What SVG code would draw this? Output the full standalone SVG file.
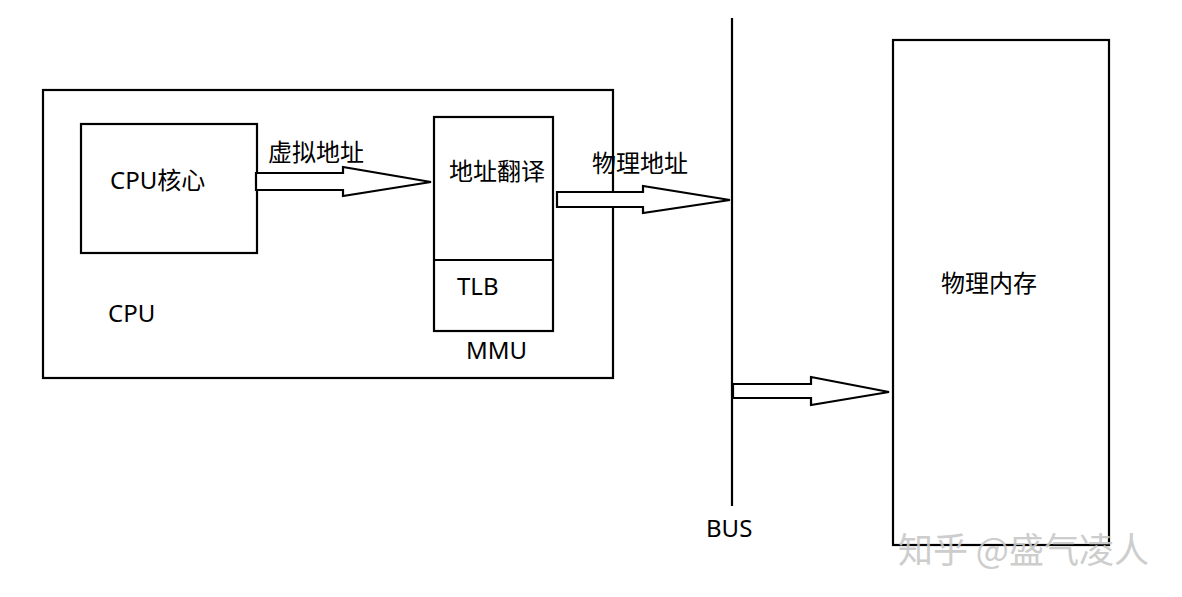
<svg xmlns="http://www.w3.org/2000/svg" width="1182" height="597" viewBox="0 0 1182 597">
<style>
.box{fill:none;stroke:#000;stroke-width:2.2}
.arr{fill:#fff;stroke:#000;stroke-width:2.2;stroke-linejoin:miter}
.t{font-family:"Noto Sans","Noto Sans CJK SC",sans-serif;font-size:24px;fill:#000}
.wm{font-family:"Noto Sans CJK SC",sans-serif;font-size:35px;fill:#c8c8c8;opacity:0.9}
</style>
<rect width="1182" height="597" fill="#fff"/>
<g id="cpu">
<rect class="box" x="43" y="90" width="570" height="288"/>
<text class="t" x="108" y="322">CPU</text>
</g>
<g id="cpu-core">
<rect class="box" x="81" y="124" width="176" height="129"/>
<text class="t" x="110" y="189">CPU核心</text>
</g>
<g id="mmu">
<rect class="box" x="434" y="117" width="119" height="214"/>
<line class="box" x1="434" y1="260" x2="553" y2="260"/>
<text class="t" x="449" y="180">地址翻译</text>
<text class="t" x="457" y="295">TLB</text>
<text class="t" x="466" y="359">MMU</text>
</g>
<g id="bus">
<line class="box" x1="732" y1="18" x2="732" y2="506"/>
<text class="t" x="706" y="537">BUS</text>
</g>
<g id="memory">
<rect class="box" x="893" y="40" width="216" height="505"/>
<text class="t" x="941" y="292">物理内存</text>
</g>
<g id="connectors">
<polygon class="arr" points="256,173 343,173 343,167 431,182 343,196 343,190 256,190"/>
<text class="t" x="268" y="161">虚拟地址</text>
<polygon class="arr" points="557,192 643,192 643,186 730,200 643,213 643,207 557,207"/>
<text class="t" x="592" y="172">物理地址</text>
<polygon class="arr" points="733,384 811,384 811,377 889,392 811,405 811,398 733,398"/>
</g>
<text class="wm" x="898" y="563">知乎 @盛气凌人</text>
</svg>
